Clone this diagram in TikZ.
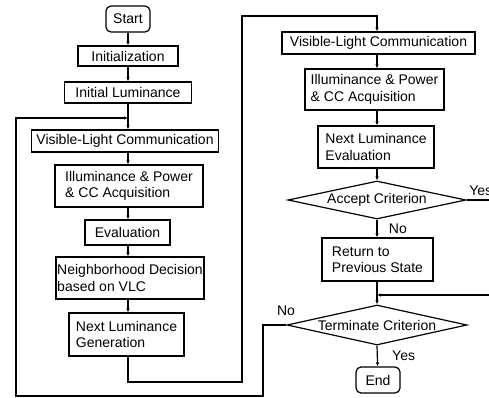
\documentclass[tikz,border=0pt]{standalone}
\usepackage{fontspec}
\setmainfont{Liberation Sans}
\usetikzlibrary{arrows.meta,shapes.geometric,positioning}

\tikzset{
  stepbox/.style={draw, line width=1.2pt, inner sep=0pt, align=center,
    font=\fontsize{14}{16.5}\selectfont},
  termbox/.style={stepbox, rounded corners=5pt, minimum width=44pt, minimum height=26pt},
  decide/.style={stepbox, diamond, aspect=4.7, minimum width=178pt, minimum height=38pt},
  flow/.style={line width=1.2pt, -{Latex[length=4pt,width=3.5pt]}},
  wire/.style={line width=1.2pt},
  tag/.style={font=\fontsize{14}{16}\selectfont},
}

\begin{document}
\begin{tikzpicture}[x=1pt, y=-1pt]
  \clip (0,0) rectangle (489,398);
  \fill[white] (0,0) rectangle (489,398);

  % left column
  \node [termbox] (start) at (128,19) {Start};
  \node [stepbox, minimum width=100pt, minimum height=20pt] (init) at (128,56) {Initialization};
  \node [stepbox, minimum width=127pt, minimum height=21pt] (inilum) at (128,92.5) {Initial Luminance};
  \node [stepbox, minimum width=187pt, minimum height=22pt] (vlca) at (125,141) {Visible-Light Communication};
  \node [stepbox, minimum width=148pt, minimum height=42pt, align=left] (acqa) at (129,186)
      {Illuminance \& Power\\\& CC Acquisition};
  \node [stepbox, minimum width=85pt, minimum height=25pt] (eval) at (127.5,232.5) {Evaluation};
  \node [stepbox, minimum width=148pt, minimum height=42pt, align=left] (neigh) at (130,278)
      {Neighborhood Decision\\based on VLC};
  \node [stepbox, minimum width=115pt, minimum height=43pt, align=left] (nextgen) at (126.5,334.5)
      {Next Luminance\\Generation};

  % right column
  \node [stepbox, minimum width=193pt, minimum height=22pt] (vlcb) at (378.5,43) {Visible-Light Communication};
  \node [stepbox, minimum width=139pt, minimum height=41pt, align=left] (acqb) at (374.5,89.5)
      {Illuminance \& Power\\\& CC Acquisition};
  \node [stepbox, minimum width=116pt, minimum height=42pt, align=left] (nexteval) at (376,147)
      {Next Luminance\\Evaluation};
  \node [decide] (accept) at (377,200) {Accept Criterion};
  \node [stepbox, minimum width=111pt, minimum height=43pt, align=left] (back) at (377.5,259.5)
      {Return to\\Previous State};
  \node [decide, minimum width=180pt, minimum height=40pt] (stop) at (377,325) {Terminate Criterion};
  \node [termbox] (end) at (378,380) {End};

  \coordinate (joina) at (128,118);
  \coordinate (joinb) at (377,295);
  \coordinate (turna) at (128,382);
  \coordinate (turnb) at (242,382);
  \coordinate (turnc) at (242,16);
  \coordinate (turnd) at (377,16);
  \coordinate (loopa) at (263,325);
  \coordinate (loopb) at (263,396);
  \coordinate (loopc) at (16,396);
  \coordinate (loopd) at (16,118);
  \coordinate (yesout) at (495,200);
  \coordinate (backin) at (495,295);

  % arrows
  \draw [flow] (start) -- (init);
  \draw [flow] (init) -- (inilum);
  \draw [wire] (inilum) -- (joina);
  \draw [flow] (joina) -- (vlca.north -| joina);
  \draw [flow] (vlca.south -| joina) -- (acqa.north -| joina);
  \draw [flow] (acqa.south -| joina) -- (eval.north -| joina);
  \draw [flow] (eval.south -| joina) -- (neigh.north -| joina);
  \draw [flow] (neigh.south -| joina) -- (nextgen.north -| joina);
  \draw [flow] (nextgen.south -| turna) -- (turna) -- (turnb) -- (turnc) -- (turnd) -- (vlcb.north -| turnd);
  \draw [flow] (vlcb.south -| turnd) -- (acqb.north -| turnd);
  \draw [flow] (acqb.south -| turnd) -- (nexteval.north -| turnd);
  \draw [flow] (nexteval.south -| turnd) -- (accept.north);
  \draw [flow] (accept.south) -- node [right, tag, xshift=8pt] {No} (back.north -| turnd);
  \draw [wire] (accept.east) -- node [above, tag, xshift=0pt] {Yes} (yesout);
  \draw [flow] (back.south -| turnd) -- (stop.north);
  \draw [flow] (backin) -- (joinb);
  \draw [flow] (stop.south) -- node [right, tag, xshift=11pt] {Yes} (end);
  \draw [flow] (stop.west) -- (loopa) -- (loopb) -- (loopc) -- (loopd) -- (joina);
  \node [tag] (nolabel) at (286,311) {No};
\end{tikzpicture}
\end{document}
